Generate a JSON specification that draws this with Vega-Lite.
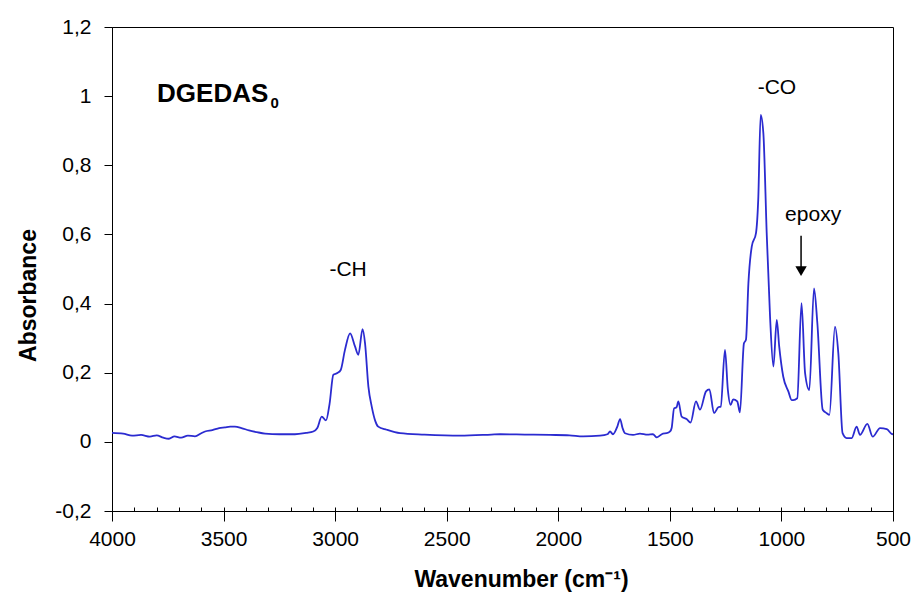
{
  "$schema": "https://vega.github.io/schema/vega-lite/v6.json",
  "width": 781,
  "height": 484,
  "autosize": {"type": "none"},
  "padding": {"left": 112, "top": 27, "right": 25, "bottom": 85},
  "background": "white",
  "config": {
    "view": {"stroke": "black", "strokeWidth": 1},
    "font": "Liberation Sans",
    "axis": {"grid": false, "domainColor": "black", "tickColor": "black", "labelColor": "black", "titleColor": "black", "labelFont": "Liberation Sans", "titleFont": "Liberation Sans"}
  },
  "datasets": {
    "spectrum": [
      {"wn": 4000, "abs": 0.026}, {"wn": 3950, "abs": 0.024}, {"wn": 3910, "abs": 0.018}, {"wn": 3870, "abs": 0.020},
      {"wn": 3830, "abs": 0.015}, {"wn": 3800, "abs": 0.019}, {"wn": 3770, "abs": 0.012}, {"wn": 3745, "abs": 0.009},
      {"wn": 3720, "abs": 0.016}, {"wn": 3690, "abs": 0.012}, {"wn": 3660, "abs": 0.018}, {"wn": 3628, "abs": 0.016},
      {"wn": 3600, "abs": 0.025}, {"wn": 3583, "abs": 0.030}, {"wn": 3550, "abs": 0.034}, {"wn": 3520, "abs": 0.040},
      {"wn": 3494, "abs": 0.042}, {"wn": 3470, "abs": 0.044}, {"wn": 3449, "abs": 0.044}, {"wn": 3420, "abs": 0.040},
      {"wn": 3386, "abs": 0.033}, {"wn": 3350, "abs": 0.028}, {"wn": 3314, "abs": 0.024}, {"wn": 3250, "abs": 0.022},
      {"wn": 3180, "abs": 0.022}, {"wn": 3130, "abs": 0.026}, {"wn": 3098, "abs": 0.030}, {"wn": 3080, "abs": 0.040},
      {"wn": 3060, "abs": 0.073}, {"wn": 3041, "abs": 0.062}, {"wn": 3025, "abs": 0.110}, {"wn": 3008, "abs": 0.194},
      {"wn": 2990, "abs": 0.199}, {"wn": 2975, "abs": 0.208}, {"wn": 2956, "abs": 0.266}, {"wn": 2933, "abs": 0.314},
      {"wn": 2911, "abs": 0.276}, {"wn": 2896, "abs": 0.252}, {"wn": 2877, "abs": 0.326}, {"wn": 2866, "abs": 0.285},
      {"wn": 2851, "abs": 0.160}, {"wn": 2836, "abs": 0.102}, {"wn": 2820, "abs": 0.060}, {"wn": 2807, "abs": 0.044},
      {"wn": 2769, "abs": 0.035}, {"wn": 2709, "abs": 0.025}, {"wn": 2600, "abs": 0.021}, {"wn": 2440, "abs": 0.018},
      {"wn": 2300, "abs": 0.021}, {"wn": 2261, "abs": 0.022}, {"wn": 2150, "abs": 0.021}, {"wn": 2037, "abs": 0.020},
      {"wn": 1950, "abs": 0.019}, {"wn": 1889, "abs": 0.016}, {"wn": 1813, "abs": 0.018}, {"wn": 1780, "abs": 0.022},
      {"wn": 1768, "abs": 0.030}, {"wn": 1755, "abs": 0.022}, {"wn": 1735, "abs": 0.045}, {"wn": 1723, "abs": 0.066},
      {"wn": 1712, "abs": 0.040}, {"wn": 1701, "abs": 0.025}, {"wn": 1665, "abs": 0.020}, {"wn": 1634, "abs": 0.024},
      {"wn": 1600, "abs": 0.021}, {"wn": 1576, "abs": 0.022}, {"wn": 1558, "abs": 0.013}, {"wn": 1531, "abs": 0.024},
      {"wn": 1514, "abs": 0.025}, {"wn": 1499, "abs": 0.030}, {"wn": 1492, "abs": 0.040}, {"wn": 1481, "abs": 0.097},
      {"wn": 1470, "abs": 0.100}, {"wn": 1462, "abs": 0.117}, {"wn": 1447, "abs": 0.073}, {"wn": 1425, "abs": 0.066},
      {"wn": 1407, "abs": 0.056}, {"wn": 1383, "abs": 0.117}, {"wn": 1365, "abs": 0.093}, {"wn": 1338, "abs": 0.146},
      {"wn": 1323, "abs": 0.152}, {"wn": 1302, "abs": 0.083}, {"wn": 1283, "abs": 0.100}, {"wn": 1272, "abs": 0.102},
      {"wn": 1253, "abs": 0.266}, {"wn": 1240, "abs": 0.150}, {"wn": 1228, "abs": 0.107}, {"wn": 1216, "abs": 0.123},
      {"wn": 1198, "abs": 0.117}, {"wn": 1186, "abs": 0.085}, {"wn": 1168, "abs": 0.285}, {"wn": 1159, "abs": 0.295},
      {"wn": 1148, "abs": 0.459}, {"wn": 1133, "abs": 0.565}, {"wn": 1114, "abs": 0.604}, {"wn": 1104, "abs": 0.700},
      {"wn": 1093, "abs": 0.946}, {"wn": 1081, "abs": 0.893}, {"wn": 1066, "abs": 0.604}, {"wn": 1051, "abs": 0.362},
      {"wn": 1036, "abs": 0.218}, {"wn": 1021, "abs": 0.353}, {"wn": 1010, "abs": 0.276}, {"wn": 992, "abs": 0.189},
      {"wn": 969, "abs": 0.146}, {"wn": 954, "abs": 0.121}, {"wn": 947, "abs": 0.121}, {"wn": 929, "abs": 0.126},
      {"wn": 910, "abs": 0.401}, {"wn": 894, "abs": 0.199}, {"wn": 875, "abs": 0.150}, {"wn": 854, "abs": 0.444},
      {"wn": 839, "abs": 0.343}, {"wn": 815, "abs": 0.093}, {"wn": 797, "abs": 0.083}, {"wn": 785, "abs": 0.078},
      {"wn": 760, "abs": 0.333}, {"wn": 745, "abs": 0.256}, {"wn": 726, "abs": 0.025}, {"wn": 708, "abs": 0.011},
      {"wn": 685, "abs": 0.011}, {"wn": 663, "abs": 0.044}, {"wn": 648, "abs": 0.020}, {"wn": 615, "abs": 0.052},
      {"wn": 591, "abs": 0.015}, {"wn": 558, "abs": 0.040}, {"wn": 528, "abs": 0.037}, {"wn": 506, "abs": 0.023},
      {"wn": 500, "abs": 0.022}
    ],
    "labels": [
      {"text": "-CH", "wn": 2942, "abs": 0.497},
      {"text": "-CO", "wn": 1020, "abs": 1.024},
      {"text": "epoxy", "wn": 858, "abs": 0.656}
    ],
    "title": [{"text": "DGEDAS", "wn": 3798, "abs": 0.983}],
    "sub": [{"text": "0", "wn": 3290, "abs": 0.966}],
    "arrow": [{"wn": 912, "top": 0.596, "bottom": 0.50, "head": 0.494}]
  },
  "resolve": {"axis": {"x": "independent"}},
  "layer": [
    {
      "data": {"name": "spectrum"},
      "mark": {"type": "line", "color": "#2b2bd0", "strokeWidth": 1.8, "interpolate": "monotone", "clip": true},
      "encoding": {
        "x": {
          "field": "wn", "type": "quantitative",
          "scale": {"domain": [500, 4000], "reverse": true, "nice": false, "zero": false},
          "axis": {
            "orient": "bottom",
            "values": [500, 1000, 1500, 2000, 2500, 3000, 3500, 4000],
            "format": "d",
            "tickSize": 10, "labelFontSize": 21, "labelPadding": 7,
            "title": "Wavenumber (cm⁻¹)", "titleFontSize": 23, "titleFontWeight": "bold",
            "titleX": 409, "titleY": 68, "titleBaseline": "middle", "titleAlign": "center",
            "labelFlush": false
          }
        },
        "y": {
          "field": "abs", "type": "quantitative",
          "scale": {"domain": [-0.2, 1.2], "nice": false, "zero": false},
          "axis": {
            "values": [-0.2, 0, 0.2, 0.4, 0.6, 0.8, 1.0, 1.2],
            "labelExpr": "replace(replace(format(datum.value, '.1~f'), '.', ','), '−', '-')",
            "tickSize": 8, "labelFontSize": 21, "labelPadding": 13,
            "title": "Absorbance", "titleFontSize": 23, "titleFontWeight": "bold",
            "titleX": -84, "titleY": 268, "titleAngle": -90, "titleAlign": "center", "titleBaseline": "middle"
          }
        }
      }
    },
    {
      "data": {"name": "arrow"},
      "mark": {"type": "rule", "color": "black", "strokeWidth": 1.5},
      "encoding": {
        "x": {
          "field": "wn", "type": "quantitative",
          "axis": {
            "orient": "bottom",
            "values": [500, 600, 700, 800, 900, 1000, 1100, 1200, 1300, 1400, 1500, 1600, 1700, 1800, 1900, 2000, 2100, 2200, 2300, 2400, 2500, 2600, 2700, 2800, 2900, 3000, 3100, 3200, 3300, 3400, 3500, 3600, 3700, 3800, 3900, 4000],
            "tickSize": -4, "labels": false, "domain": false, "title": null
          }
        },
        "y": {"field": "top", "type": "quantitative"},
        "y2": {"field": "bottom"}
      }
    },
    {
      "data": {"name": "arrow"},
      "mark": {"type": "point", "shape": "triangle-down", "filled": true, "color": "black", "size": 130, "opacity": 1},
      "encoding": {
        "x": {"field": "wn", "type": "quantitative", "axis": null},
        "y": {"field": "head", "type": "quantitative"}
      }
    },
    {
      "data": {"name": "labels"},
      "mark": {"type": "text", "fontSize": 21, "color": "black", "align": "center", "baseline": "middle", "font": "Liberation Sans"},
      "encoding": {
        "x": {"field": "wn", "type": "quantitative", "axis": null},
        "y": {"field": "abs", "type": "quantitative"},
        "text": {"field": "text"}
      }
    },
    {
      "data": {"name": "title"},
      "mark": {"type": "text", "fontSize": 26, "fontWeight": "bold", "color": "black", "align": "left", "baseline": "alphabetic", "font": "Liberation Sans"},
      "encoding": {
        "x": {"field": "wn", "type": "quantitative", "axis": null},
        "y": {"field": "abs", "type": "quantitative"},
        "text": {"field": "text"}
      }
    },
    {
      "data": {"name": "sub"},
      "mark": {"type": "text", "fontSize": 15, "fontWeight": "bold", "color": "black", "align": "left", "baseline": "alphabetic", "font": "Liberation Sans"},
      "encoding": {
        "x": {"field": "wn", "type": "quantitative", "axis": null},
        "y": {"field": "abs", "type": "quantitative"},
        "text": {"field": "text"}
      }
    }
  ]
}
